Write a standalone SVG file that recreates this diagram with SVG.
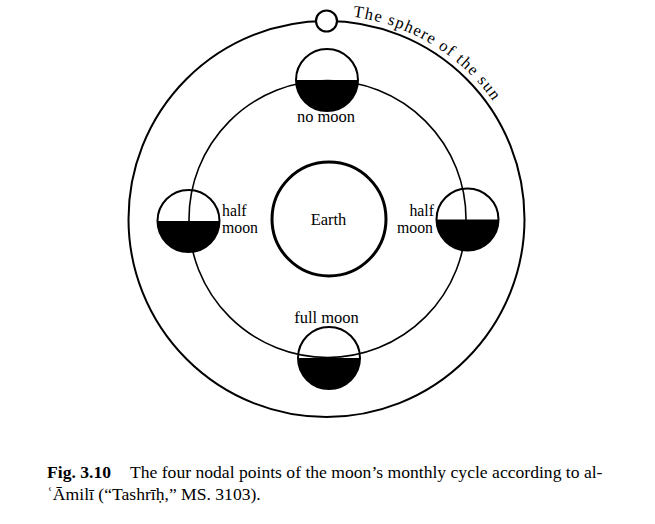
<svg xmlns="http://www.w3.org/2000/svg" width="655" height="524" viewBox="0 0 655 524">
<style>
.lbl{font-family:"Liberation Serif","Times New Roman",serif;font-size:16.5px;fill:#000}
.half{font-size:15.8px}
.cap{font-family:"Liberation Serif","Times New Roman",serif;font-size:17.6px;fill:#000}
.ring{fill:none;stroke:#000}
.moon{fill:none;stroke:#000;stroke-width:2}
.dark{fill:#000;stroke:none}
</style>
<defs>
<path id="sunArc" d="M352.8,16.7 A204,204 0 0 1 503.2,117"/>
</defs>
<rect width="655" height="524" fill="#fff"/>
<g id="connectors">
<circle id="sphere-of-sun" class="ring" cx="326.5" cy="219" r="198" stroke-width="2"/>
<circle id="moon-orbit" class="ring" cx="327.5" cy="219" r="138.5" stroke-width="1.6"/>
</g>
<g id="sun">
<circle cx="326.5" cy="21" r="10.5" fill="#fff" stroke="#000" stroke-width="2.2"/>
<text class="lbl" font-size="16.5"><textPath href="#sunArc" textLength="168" lengthAdjust="spacing">The sphere of the sun</textPath></text>
</g>
<g id="earth">
<circle cx="329" cy="219" r="57" fill="none" stroke="#000" stroke-width="3"/>
<text class="lbl" x="328.5" y="225" text-anchor="middle">Earth</text>
</g>
<g id="no-moon">
<path class="dark" d="M296,80 A31,31 0 0 0 358,80 Z"/>
<circle class="moon" cx="327" cy="80" r="31"/>
<text class="lbl" x="326" y="122" text-anchor="middle">no moon</text>
</g>
<g id="full-moon">
<path class="dark" d="M298,358 A31,31 0 0 0 360,358 Z"/>
<circle class="moon" cx="329" cy="358" r="31"/>
<text class="lbl" x="326.5" y="323" text-anchor="middle">full moon</text>
</g>
<g id="half-moon-left">
<path class="dark" d="M157.5,221 A31,31 0 0 0 219.5,221 Z"/>
<circle class="moon" cx="188.5" cy="221" r="31"/>
<text class="lbl half" x="222" y="215.5">half<tspan x="222" dy="17.5">moon</tspan></text>
</g>
<g id="half-moon-right">
<path class="dark" d="M436.5,219.5 A31,31 0 0 0 498.5,219.5 Z"/>
<circle class="moon" cx="467.5" cy="219.5" r="31"/>
<text class="lbl half" x="434" y="215.5" text-anchor="end">half<tspan x="433" dy="17.5">moon</tspan></text>
</g>
<g id="caption">
<text class="cap" x="47" y="478"><tspan font-weight="bold">Fig. 3.10</tspan><tspan x="130">The four nodal points of the moon’s monthly cycle according to al-</tspan></text>
<text class="cap" x="47" y="500">ʿĀmilī (“Tashrīḥ,” MS. 3103).</text>
</g>
</svg>
